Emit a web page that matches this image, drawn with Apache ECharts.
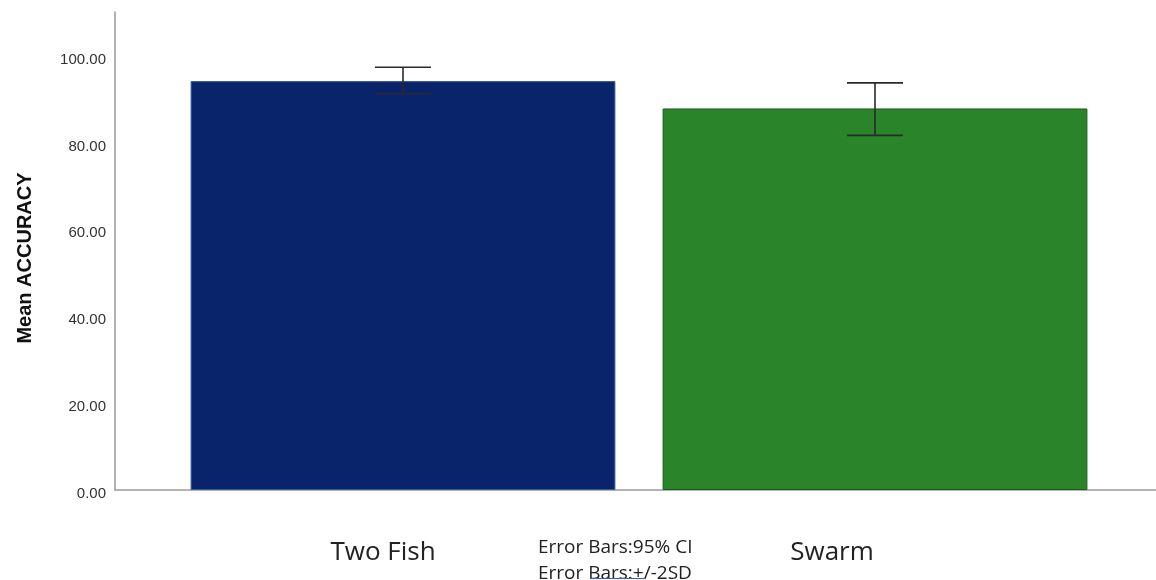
<!DOCTYPE html>
<html>
<head>
<meta charset="utf-8">
<script src="https://cdn.jsdelivr.net/npm/echarts@6/dist/echarts.min.js"></script>
<style>html,body{margin:0;padding:0;background:#fff;}#c{width:1156px;height:580px;}</style>
</head>
<body>
<div id="c"></div>
<script>
var categories = ['Two Fish', 'Swarm'];
var means = [94.1, 87.8];
var errLow = [91.2, 81.6];
var errHigh = [97.3, 93.7];
var barColors = ['#0a246c', '#2a852a'];
var yName = 'Mean ACCURACY';
var footnote = ['Error Bars:95% CI', 'Error Bars:+/-2SD'];
var labelShift = [40, 86];

var chart = echarts.init(document.getElementById('c'), null, {renderer: 'canvas'});
var errData = categories.map(function (c, i) { return [i, errLow[i], errHigh[i]]; });
var barData = means.map(function (v, i) {
  return {value: v, itemStyle: {color: barColors[i], borderColor: i === 0 ? '#3a5aa0' : '#1c5a1c', borderWidth: 1}};
});
var rich = {};
categories.forEach(function (c, i) {
  rich['c' + i] = {fontFamily: 'Open Sans', fontSize: 26, color: '#222', padding: [0, labelShift[i], 0, 0]};
});

chart.setOption({
  animation: false,
  grid: [
    {left: 115, right: 0, top: 12, bottom: 90},
    {left: 167, right: 45, top: 12, bottom: 90}
  ],
  xAxis: [
    {gridIndex: 0, type: 'value', min: 0, max: 1, axisLine: {show: true, lineStyle: {color: '#9a9a9a', width: 1.5}},
     axisTick: {show: false}, axisLabel: {show: false}, splitLine: {show: false}},
    {gridIndex: 1, type: 'category', data: categories, axisLine: {show: false}, axisTick: {show: false},
     splitLine: {show: false},
     axisLabel: {margin: 50, formatter: function (v) { var i = categories.indexOf(v); return '{c' + i + '|' + v + '}'; }, rich: rich}}
  ],
  yAxis: [
    {gridIndex: 0, type: 'value', min: 0, max: 110, interval: 20,
     name: yName, nameLocation: 'middle', nameRotate: 90, nameGap: 80,
     nameTextStyle: {fontFamily: 'Liberation Sans', fontSize: 20, fontWeight: 'bold', color: '#111', padding: [0, 14, 0, 0]},
     axisLine: {show: true, lineStyle: {color: '#9a9a9a', width: 1.5}},
     axisTick: {show: false}, splitLine: {show: false},
     axisLabel: {showMaxLabel: false, margin: 9, verticalAlign: 'top', lineHeight: 8, fontFamily: 'Liberation Sans', fontSize: 15, color: '#333',
       formatter: function (v) { return v.toFixed(2); }}},
    {gridIndex: 1, type: 'value', min: 0, max: 110, show: false}
  ],
  series: [
    {type: 'bar', xAxisIndex: 1, yAxisIndex: 1, data: barData, barWidth: '90%'},
    {type: 'custom', xAxisIndex: 1, yAxisIndex: 1, data: errData, z: 5,
     encode: {x: 0, y: [1, 2]},
     renderItem: function (params, api) {
       var lo = api.coord([api.value(0), api.value(1)]);
       var hi = api.coord([api.value(0), api.value(2)]);
       var hw = 28;
       var st = {stroke: '#2a2a2a', lineWidth: 1.6};
       return {type: 'group', children: [
         {type: 'line', shape: {x1: lo[0], y1: lo[1], x2: hi[0], y2: hi[1]}, style: st},
         {type: 'line', shape: {x1: lo[0] - hw, y1: lo[1], x2: lo[0] + hw, y2: lo[1]}, style: st},
         {type: 'line', shape: {x1: hi[0] - hw, y1: hi[1], x2: hi[0] + hw, y2: hi[1]}, style: st}
       ]};
     }}
  ],
  graphic: [
    {type: 'text', left: 538, top: 535, style: {text: footnote.join('\n'), fontFamily: 'Open Sans', fontSize: 19, lineHeight: 26, fill: '#222'}},
    {type: 'line', shape: {x1: 590, y1: 578.5, x2: 645, y2: 578.5}, style: {stroke: '#3b5fc9', lineWidth: 1}}
  ]
});
</script>
</body>
</html>
